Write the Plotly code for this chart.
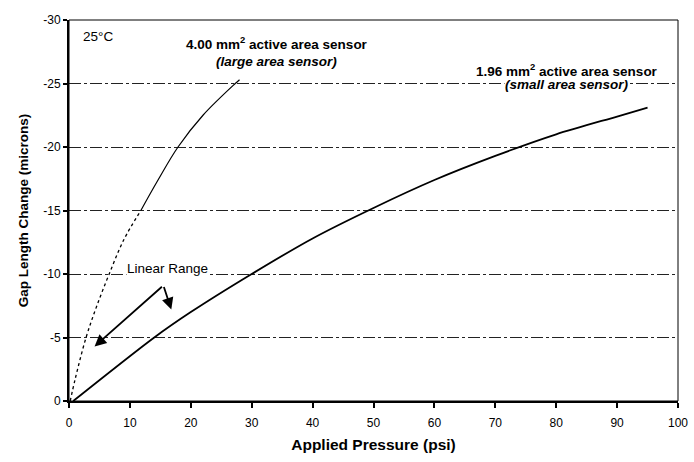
import plotly.graph_objects as go

# Gap length change vs applied pressure for two capacitive sensor sizes (25 °C)
small_psi = [0.7, 14, 20, 30, 40, 50, 60, 70, 80, 90, 95]
small_gap = [0, -5.0, -7.0, -10.0, -12.8, -15.2, -17.4, -19.3, -21.0, -22.4, -23.1]

large_psi = [0.2, 1.0, 2.8, 4.5, 6.6, 9.0, 11.8, 14.5, 17.9, 22.0, 27.3, 28.0]
large_gap = [0, -1.7, -5.0, -7.4, -10.0, -12.7, -15.0, -17.3, -20.0, -22.5, -25.0, -25.3]

x_ticks = [0, 10, 20, 30, 40, 50, 60, 70, 80, 90, 100]
y_ticks = [0, -5, -10, -15, -20, -25, -30]
y_tick_text = ["0", "-5", "-10", "-15", "-20", "-25", "-30"]

FONT = "Arial, Liberation Sans, sans-serif"
NOTE = dict(family=FONT, size=13.5, color="black")

fig = go.Figure()

# large sensor: lower part printed dotted, upper part continuous
split = 7
fig.add_trace(go.Scatter(
    x=large_psi[:split], y=large_gap[:split], mode="lines",
    line=dict(color="black", width=1.3, dash="dot", shape="spline"),
    showlegend=False, hoverinfo="skip"))
fig.add_trace(go.Scatter(
    x=large_psi[split - 1:], y=large_gap[split - 1:], mode="lines",
    line=dict(color="black", width=1.2, shape="spline"),
    showlegend=False, hoverinfo="skip"))

# small sensor
fig.add_trace(go.Scatter(
    x=small_psi, y=small_gap, mode="lines",
    line=dict(color="black", width=1.8, shape="spline", smoothing=0.8),
    showlegend=False, hoverinfo="skip"))

# "Linear Range" callout with two arrows
vertex = (15.5, -9.1)
arrow_heads = [(4.2, -4.3), (16.8, -7.2)]
for hx, hy in arrow_heads:
    fig.add_annotation(x=hx, y=hy, ax=vertex[0], ay=vertex[1],
                       xref="x", yref="y", axref="x", ayref="y",
                       text="", showarrow=True, arrowhead=2, arrowsize=1.3,
                       arrowwidth=1.8, arrowcolor="black")

fig.add_annotation(x=9.3, y=-10.4, xref="x", yref="y", text="Linear Range",
                   showarrow=False, xanchor="left", bgcolor="white", borderpad=0,
                   font=NOTE)

fig.add_annotation(x=2.0, y=-28.7, xref="x", yref="y", text="25°C",
                   showarrow=False, xanchor="left", font=NOTE)

fig.add_annotation(x=34.1, y=-28.2, xref="x", yref="y",
                   text="<b>4.00 mm<sup>2</sup> active area sensor</b>",
                   showarrow=False, font=NOTE)
fig.add_annotation(x=34.1, y=-26.7, xref="x", yref="y",
                   text="<b><i>(large area sensor)</i></b>",
                   showarrow=False, font=NOTE)

fig.add_annotation(x=81.8, y=-26.1, xref="x", yref="y",
                   text="<b>1.96 mm<sup>2</sup> active area sensor</b>",
                   showarrow=False, font=NOTE)
fig.add_annotation(x=81.8, y=-24.9, xref="x", yref="y",
                   text="<b><i>(small area sensor)</i></b>",
                   showarrow=False, bgcolor="white", borderpad=0, font=NOTE)

# thin frame on top and right
fig.add_shape(type="rect", xref="paper", yref="paper", x0=0, y0=0, x1=1, y1=1,
              line=dict(color="black", width=1), layer="above")

fig.update_xaxes(
    range=[0, 100], tickvals=x_ticks, ticks="outside", ticklen=5, tickwidth=1.5,
    tickcolor="black", showline=True, linecolor="black", linewidth=2,
    showgrid=False, zeroline=False, ticklabelstandoff=5,
    ticklabeloverflow="allow",
    tickfont=dict(family=FONT, size=12, color="black"),
    title=dict(text="<b>Applied Pressure (psi)</b>", standoff=10,
               font=dict(family=FONT, size=15.5, color="black")))

fig.update_yaxes(
    range=[0, -30], tickvals=y_ticks, ticktext=y_tick_text, ticks="outside",
    ticklen=4, tickwidth=1.5, tickcolor="black", showline=True, linecolor="black",
    linewidth=2, showgrid=True, gridcolor="#222", gridwidth=1,
    griddash="12px,3px,3px,3px", zeroline=False,
    tickfont=dict(family=FONT, size=12, color="black"),
    title=dict(text="<b>Gap Length Change (microns)</b>", standoff=12,
               font=dict(family=FONT, size=13.5, color="black")))

fig.update_layout(
    width=694, height=462,
    margin=dict(l=69, r=6, t=20, b=61),
    paper_bgcolor="white", plot_bgcolor="white",
    showlegend=False)

fig.write_html("out.html")
